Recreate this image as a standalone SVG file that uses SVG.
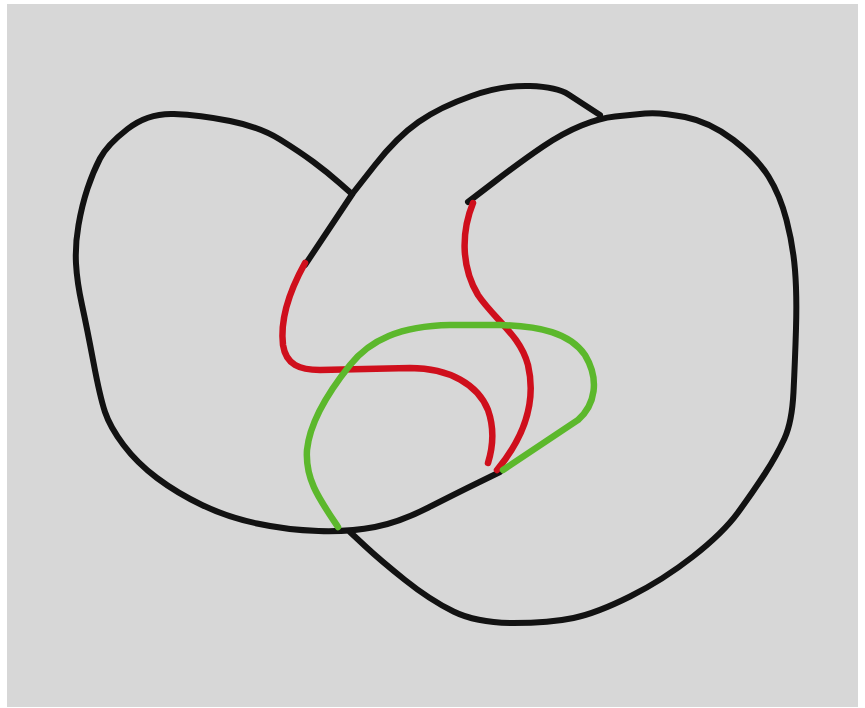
<svg xmlns="http://www.w3.org/2000/svg" width="865" height="708" viewBox="0 0 865 708">
<style>
.k{fill:none;stroke:#121212;stroke-width:6;stroke-linejoin:round;stroke-linecap:round}
.r{fill:none;stroke:#cf0f1c;stroke-width:6.5;stroke-linecap:round}
.g{fill:none;stroke:#5cb82c;stroke-width:6.5;stroke-linecap:round}
</style>
<rect x="0" y="0" width="865" height="708" fill="#ffffff"/>
<rect x="7" y="4" width="851" height="703" fill="#d7d7d7"/>
<g id="knot">
<path class="k" d="M352,194 L339.5,183 Q327,172 313.5,162 Q300,152 280,139.5 Q260,127 230,121 Q200,115 174,114 Q148,113 127.5,129 Q107,145 100,158.5 Q93,172 87.5,188.5 Q82,205 78.5,225 Q75,245 76,263.5 Q77,282 82,305 Q87,328 93.5,362.5 Q100,397 105,412 Q110,427 123.5,445 Q137,463 157,478 Q177,493 202,505 Q227,517 257,523.5 Q287,530 318.5,531 Q350,532 375,527 Q400,522 428.5,507.5 Q457,493 478.5,482.5 L500,472"/>
<path class="k" d="M305,265 L353,193 L375,165 Q397,137 418.5,122 Q440,107 471.5,96 Q503,85 530,86 Q557,87 568.5,94.5 Q580,102 590,108.5 L600,115"/>
<path class="k" d="M468,202 L495.5,181 Q523,160 543,146.5 Q563,133 581.5,125.5 Q600,118 615,116.5 Q630,115 645,113.5 Q660,112 685,117 Q710,122 733.5,140 Q757,158 768.5,176.5 Q780,195 786.5,220 Q793,245 795,270 Q797,295 796,328.5 Q795,362 793.5,392 Q792,422 784.5,438.5 Q777,455 765,473.5 Q753,492 738,512.5 Q723,533 693,556.5 Q663,580 630,596.5 Q597,613 573.5,618 Q550,623 513.5,623 Q477,623 453.5,611.5 Q430,600 405,580 Q380,560 365,546 L350,532"/>
</g>
<g id="red">
<path class="r" d="M305,263 C290,290 280,320 283,345 C286,365 300,370 320,370 L410,368 C450,368 478,385 488,410 C495,430 492,450 488,463"/>
<path class="r" d="M473,203 C462,230 460,265 478,295 C495,320 520,335 528,365 C535,395 530,430 497,470"/>
</g>
<g id="green">
<path class="g" d="M503,470 L578,420 C595,405 600,380 585,355 C570,333 540,326 500,325 L450,325 C400,326 370,340 350,365 C330,390 310,420 307,450 C305,480 320,500 338,527"/>
</g>
</svg>
